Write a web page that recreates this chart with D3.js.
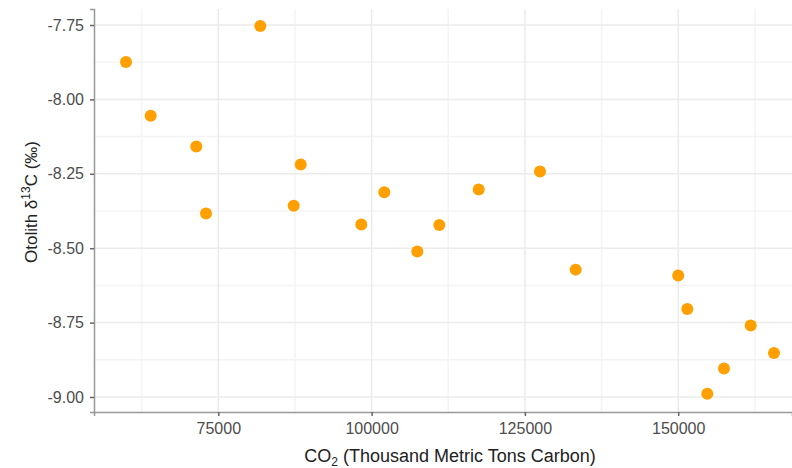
<!DOCTYPE html>
<html>
<head>
<meta charset="utf-8">
<script src="https://cdn.jsdelivr.net/npm/d3@7"></script>
<style>
  body { margin: 0; background: #fff; }
  svg { font-family: "Liberation Sans", Arial, sans-serif; }
</style>
</head>
<body>
<div id="chart"></div>
<script>
// CO2 (thousand metric tons carbon) vs otolith d13C
const co2 = [59950, 63976, 71412, 72994, 81850, 87296, 88438, 98320, 102071, 107450,
  111040, 117466, 127462, 133284, 150000, 151484, 154745, 157469, 161823, 165623];
const d13c = [-7.874, -8.055, -8.158, -8.383, -7.753, -8.357, -8.219, -8.420, -8.312, -8.511,
  -8.422, -8.303, -8.242, -8.572, -8.592, -8.704, -8.989, -8.904, -8.760, -8.852];
const xTicks = [75000, 100000, 125000, 150000];
const yTicks = [-7.75, -8.0, -8.25, -8.5, -8.75, -9.0];

const width = 792, height = 468;
const margin = { top: 9, right: 0, bottom: 56, left: 94 };

const svg = d3.select('#chart').append('svg')
  .attr('width', width)
  .attr('height', height);

const x = d3.scaleLinear().domain([54729, 168558]).range([margin.left, width - margin.right]);
const y = d3.scaleLinear().domain([-9.0504, -7.6962]).range([height - margin.bottom, margin.top]);

const data = co2.map((c, i) => ({ co2: c, d13c: d13c[i] }));

// minor grid at midpoints
const xMinor = [62500, 87500, 112500, 137500, 162500];
const yMinor = [-7.875, -8.125, -8.375, -8.625, -8.875];

const grid = svg.append('g');
grid.selectAll('.xminor').data(xMinor).enter().append('line')
  .attr('x1', d => x(d)).attr('x2', d => x(d))
  .attr('y1', margin.top).attr('y2', height - margin.bottom)
  .attr('stroke', '#f4f4f4').attr('stroke-width', 1.5);
grid.selectAll('.yminor').data(yMinor).enter().append('line')
  .attr('y1', d => y(d)).attr('y2', d => y(d))
  .attr('x1', margin.left).attr('x2', width - margin.right)
  .attr('stroke', '#f4f4f4').attr('stroke-width', 1.5);
grid.selectAll('.xmajor').data(xTicks).enter().append('line')
  .attr('x1', d => x(d)).attr('x2', d => x(d))
  .attr('y1', margin.top).attr('y2', height - margin.bottom)
  .attr('stroke', '#ebebeb').attr('stroke-width', 1.5);
grid.selectAll('.ymajor').data(yTicks).enter().append('line')
  .attr('y1', d => y(d)).attr('y2', d => y(d))
  .attr('x1', margin.left).attr('x2', width - margin.right)
  .attr('stroke', '#ebebeb').attr('stroke-width', 1.5);

// axes
const xAxis = g => g
  .attr('transform', `translate(0,${height - margin.bottom})`)
  .call(d3.axisBottom(x).tickValues(xTicks).tickFormat(d3.format('d')).tickSizeOuter(0).tickSize(4).tickPadding(7))
  .call(gr => gr.select('.domain').attr('stroke', '#999').attr('stroke-width', 1.5))
  .call(gr => gr.selectAll('.tick line').attr('stroke', '#666').attr('stroke-width', 1.5))
  .call(gr => gr.selectAll('.tick text').attr('fill', '#4d4d4d').attr('font-size', 16));

const yAxis = g => g
  .attr('transform', `translate(${margin.left},0)`)
  .call(d3.axisLeft(y).tickValues(yTicks).tickFormat(d3.format('.2f')).tickSizeOuter(0).tickSize(4).tickPadding(6))
  .call(gr => gr.select('.domain').attr('stroke', '#999').attr('stroke-width', 1.5))
  .call(gr => gr.selectAll('.tick line').attr('stroke', '#666').attr('stroke-width', 1.5))
  .call(gr => gr.selectAll('.tick text').attr('fill', '#4d4d4d').attr('font-size', 16)
    .text(d => d3.format('.2f')(d).replace('−', '-')));

svg.append('g').call(xAxis);
svg.append('g').call(yAxis);

// points
svg.append('g').selectAll('circle').data(data).enter().append('circle')
  .attr('cx', d => x(d.co2))
  .attr('cy', d => y(d.d13c))
  .attr('r', 6)
  .attr('fill', '#ffa000');

// axis titles
const xt = svg.append('text')
  .attr('x', 450).attr('y', 462)
  .attr('text-anchor', 'middle')
  .attr('font-size', 18).attr('fill', '#222');
xt.append('tspan').text('CO');
xt.append('tspan').attr('font-size', 12).attr('dy', 4).text('2');
xt.append('tspan').attr('dy', -4).text(' (Thousand Metric Tons Carbon)');

const yt = svg.append('text')
  .attr('transform', 'translate(37,202) rotate(-90)')
  .attr('text-anchor', 'middle')
  .attr('font-size', 17).attr('fill', '#222');
yt.append('tspan').text('Otolith δ');
yt.append('tspan').attr('font-size', 12).attr('dy', -7).text('13');
yt.append('tspan').attr('dy', 7).text('C (‰)');
</script>
</body>
</html>
